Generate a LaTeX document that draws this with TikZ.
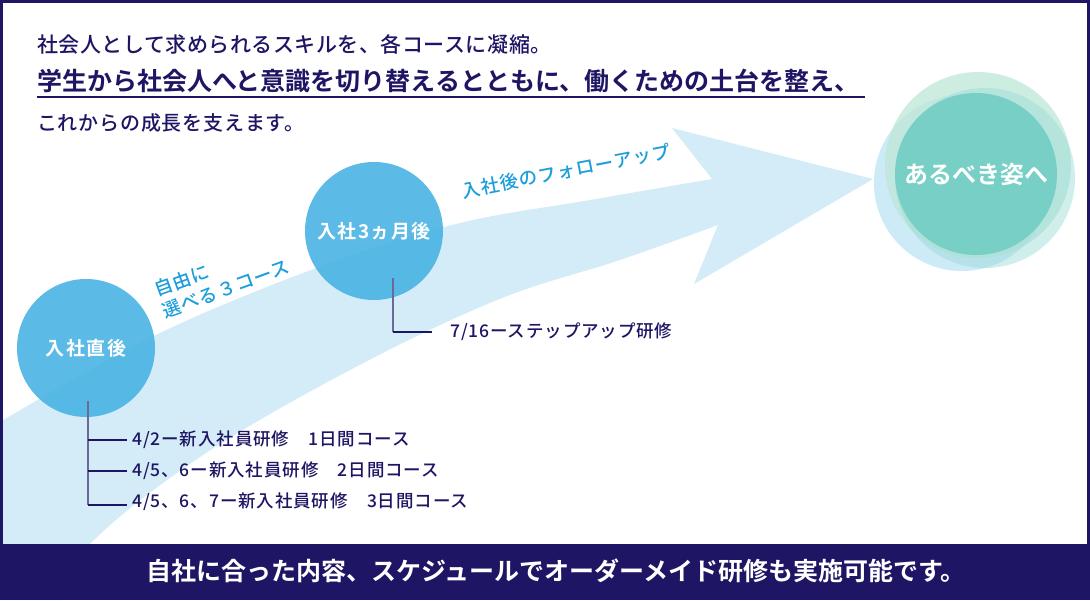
\documentclass[tikz,border=0pt]{standalone}
\usepackage{fontspec}
\setmainfont{Noto Sans CJK JP}[BoldFont={Noto Sans CJK JP Bold}]
\newfontfamily\jpm{Noto Sans CJK JP Medium}
\definecolor{navy}{RGB}{30,22,100}
\definecolor{bandblue}{RGB}{212,236,248}
\definecolor{labelblue}{RGB}{27,158,219}
\definecolor{circblue}{RGB}{64,175,226}
\definecolor{teal}{RGB}{120,207,198}
\definecolor{palegreen}{RGB}{190,231,216}
\definecolor{paleblue}{RGB}{200,232,247}
\definecolor{paleteal}{RGB}{150,218,214}
\tikzset{
  head/.style={anchor=west, inner sep=0pt, text=navy},
  stage/.style={circle, fill=circblue, fill opacity=.85, text opacity=1, minimum size=138pt, inner sep=0pt, text=white, font=\bfseries\fontsize{19}{22}\selectfont\addfontfeatures{LetterSpace=8}},
  course/.style={anchor=west, inner sep=0pt, text=navy, font=\jpm\fontsize{17.5}{20}\selectfont\addfontfeatures{LetterSpace=5}},
  tick/.style={draw=navy, line width=1.2pt},
  stem/.style={draw=navy!65, line width=1.6pt},
  blabel/.style={text=labelblue, inner sep=0pt, font=\jpm\fontsize{18.5}{23}\selectfont\addfontfeatures{LetterSpace=5}, align=left}
}
\begin{document}
\begin{tikzpicture}[x=1pt,y=-1pt]
\useasboundingbox (0,0) rectangle (1090,600);
\fill[white] (0,0) rectangle (1090,600);
% big arrow band
\fill[bandblue] plot[smooth, tension=.6] coordinates {(0,422) (160,333) (330,263) (460,223) (590,200) (712,179)}
  -- (672,128) -- (873,179) -- (694,284) -- (718,225)
  -- plot[smooth, tension=.6] coordinates {(718,225) (620,260) (497,300) (350,370) (200,457) (90,544) (62,600)}
  -- (0,600) -- cycle;
% goal circles
\fill[paleblue, opacity=.9] (962,183) circle (88);
\fill[palegreen, opacity=.75] (978,165) circle (93);
\fill[paleteal, opacity=.45] (985,178) circle (90);
\node[circle, fill=teal, minimum size=162pt, inner sep=0pt, text=white, font=\bfseries\fontsize{24}{26}\selectfont] (goal) at (976,174) {あるべき姿へ};
% stage circles
\node[stage] (c1) at (86,348) {入社直後};
\node[stage] (c2) at (374,231) {入社3ヵ月後};
% labels on arrow
\node[blabel, rotate=20] (l1) at (222,278) {自由に\\選べる３コース};
\node[blabel, rotate=11] (l2) at (566,171) {入社後のフォローアップ};
% header
\node[head, font=\jpm\fontsize{21}{24}\selectfont\addfontfeatures{LetterSpace=2.5}] (h1) at (37,44) {社会人として求められるスキルを、各コースに凝縮。};
\node[head, font=\bfseries\fontsize{25}{28}\selectfont] (h2) at (37,81) {学生から社会人へと意識を切り替えるとともに、働くための土台を整え、};
\node[head, font=\jpm\fontsize{20}{24}\selectfont\addfontfeatures{LetterSpace=4}] (h3) at (37,123) {これからの成長を支えます。};
\coordinate (ulA) at (37,97);
\coordinate (ulB) at (865,97);
\draw[navy, line width=1.5pt] (ulA) -- (ulB);
% course list
\node[course] (t1) at (132,440) {4/2ー新入社員研修　1日間コース};
\node[course] (t2) at (132,471) {4/5、6ー新入社員研修　2日間コース};
\node[course] (t3) at (132,502) {4/5、6、7ー新入社員研修　3日間コース};
\coordinate (s1) at (88,401);
\coordinate (s1e) at (88,505);
\draw[stem] (s1) -- (s1e);
\draw[tick] (s1 |- t1.west) -- ([xshift=-5pt]t1.west);
\draw[tick] (s1 |- t2.west) -- ([xshift=-5pt]t2.west);
\draw[tick] (s1e) -- ([xshift=-5pt]t3.west |- s1e);
\node[course] (t4) at (450,332) {7/16ーステップアップ研修};
\coordinate (s2) at (393,278);
\coordinate (s2e) at (393,332);
\draw[stem] (s2) -- (s2e);
\draw[tick] (s2e) -- ([xshift=-18pt]t4.west);
% frame and footer
\draw[navy, line width=3pt] (1.5,1.5) rectangle (1088.5,546);
\fill[navy] (0,544) rectangle (1090,600);
\node[text=white, font=\bfseries\fontsize{25}{28}\selectfont] (foot) at (556,571) {自社に合った内容、スケジュールでオーダーメイド研修も実施可能です。};
\end{tikzpicture}
\end{document}
